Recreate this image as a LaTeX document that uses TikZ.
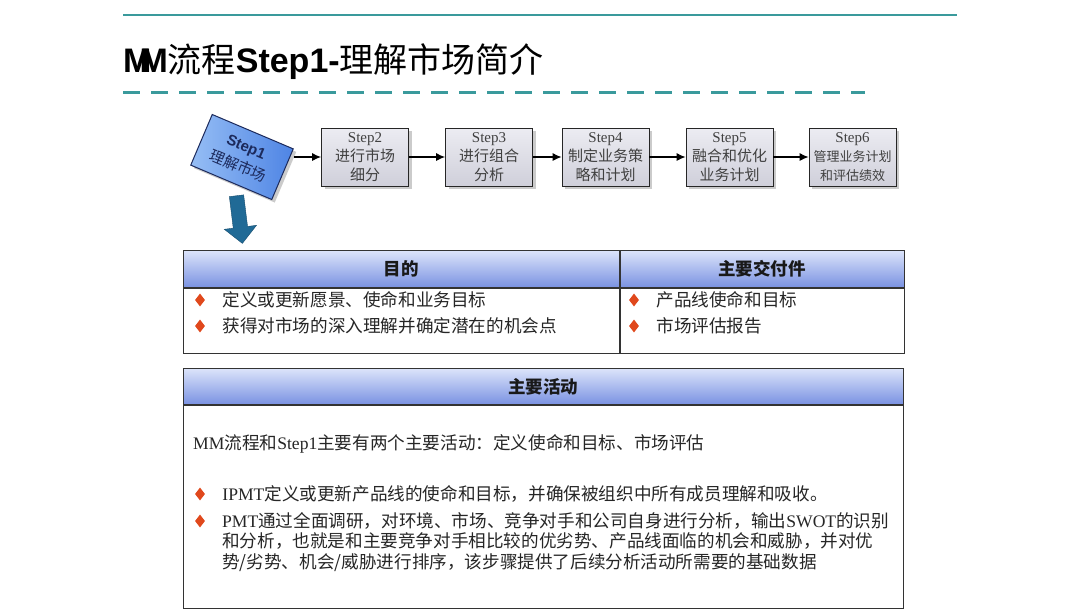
\documentclass[tikz,border=0pt]{standalone}
\usepackage{fontspec}
\setmainfont{Noto Sans CJK SC}
\newfontfamily\serifl{Liberation Serif}
\newfontfamily\sansl{Liberation Sans}
\newcommand{\lat}[1]{{\serifl #1}}
\usepackage{tikz}
\usetikzlibrary{shapes,arrows.meta,positioning,shadows}

\definecolor{tealline}{HTML}{3A9A9C}
\definecolor{headtop}{HTML}{DCE4FA}
\definecolor{headbot}{HTML}{7A92E2}
\definecolor{steptop}{HTML}{ECECF2}
\definecolor{stepbot}{HTML}{CFCFDA}
\definecolor{ticked}{HTML}{E0481C}
\definecolor{navy}{HTML}{1C2A5C}

\begin{document}
\begin{tikzpicture}[x=1pt, y=-1pt,
        stepbox/.style={rectangle, draw=black!85, line width=0.8pt, top color=steptop, bottom color=stepbot, minimum width=87pt, minimum height=58pt, inner sep=2pt, align=center, text=black!75, font=\fontsize{15}{19}\selectfont, drop shadow={shadow xshift=3pt, shadow yshift=-3pt, fill=black!40}},
        firststep/.style={rectangle, draw=navy, line width=1pt, left color={rgb,255:red,150;green,190;blue,245}, right color={rgb,255:red,78;green,132;blue,228}, minimum width=88pt, minimum height=55pt, rotate=-23, align=center, text=navy, font=\fontsize{15}{21}\selectfont, drop shadow={shadow xshift=3pt, shadow yshift=-3pt, fill=black!40}},
        flow/.style={-{Latex[length=9pt, width=8pt]}, line width=1.1pt},
        downarrow/.style={single arrow, draw={rgb,255:red,22;green,76;blue,110}, fill={rgb,255:red,32;green,106;blue,150}, minimum height=48pt, inner sep=7pt, single arrow head extend=9pt, rotate=-83},
        headcell/.style={rectangle, draw=black!80, line width=0.8pt, top color=headtop, bottom color=headbot, anchor=north west, inner sep=0pt, minimum height=37pt, text=black!90, font=\fontsize{17.5}{20}\selectfont\bfseries},
        bodycell/.style={rectangle, draw=black!80, line width=0.8pt, fill=white, anchor=north west, inner sep=0pt},
        tick/.style={diamond, fill=ticked, minimum width=10pt, minimum height=13pt, inner sep=0pt},
        item/.style={inner sep=0pt, text=black!85, font=\fontsize{17.6}{20.5}\selectfont}
    ]

    \fill[white] (0,0) rectangle (1080,614);
    \useasboundingbox (0,0) rectangle (1080,614);

    % title
    \draw[tealline, line width=1.5pt] (123,15) -- (957,15);
    \node[anchor=west, inner sep=0pt, font=\fontsize{34}{40}\selectfont] (title) at (123,62) {{\sansl\bfseries M\kern-12pt M}流程{\sansl\bfseries Step1-}理解市场简介};
    \draw[tealline, line width=3pt, dash pattern=on 17pt off 11pt] (123,92) -- (865,92);

    % steps
    \node[firststep] (step1) at (242,157) {{\sansl\bfseries Step1}\\理解市场};
    \node[stepbox] (step2) at (365,157) {\lat{Step2}\\进行市场\\细分};
    \node[stepbox] (step3) at (489,157) {\lat{Step3}\\进行组合\\分析};
    \node[stepbox] (step4) at (605.5,157) {\lat{Step4}\\制定业务策\\略和计划};
    \node[stepbox] (step5) at (729.5,157) {\lat{Step5}\\融合和优化\\业务计划};
    \node[stepbox] (step6) at (852.5,157) {\lat{Step6}\\{\fontsize{13}{19}\selectfont 管理业务计划}\\{\fontsize{13}{19}\selectfont 和评估绩效}};

    \draw[flow] (step1.north east |- step2.west) -- (step2.west);
    \draw[flow] (step2) -- (step3);
    \draw[flow] (step3) -- (step4);
    \draw[flow] (step4) -- (step5);
    \draw[flow] (step5) -- (step6);

    \node[downarrow] (down) at (239,216) {};

    % goals and deliverables
    \node[headcell, minimum width=436pt] (goalhead) at (183,250) {目的};
    \node[headcell, minimum width=284pt] (delivhead) at (goalhead.north east) {主要交付件};
    \node[bodycell, minimum width=436pt, minimum height=65pt] (goalbody) at (goalhead.south west) {};
    \node[bodycell, minimum width=284pt, minimum height=65pt] (delivbody) at (delivhead.south west) {};

    \node[tick] (bg1) at (200,300) {};
    \node[item, right=17pt of bg1] (g1) {定义或更新愿景、使命和业务目标};
    \node[tick] (bg2) at (200,326) {};
    \node[item, right=17pt of bg2] (g2) {获得对市场的深入理解并确定潜在的机会点};
    \node[tick] (bd1) at (634,300) {};
    \node[item, right=17pt of bd1] (d1) {产品线使命和目标};
    \node[tick] (bd2) at (634,326) {};
    \node[item, right=17pt of bd2] (d2) {市场评估报告};

    % activities
    \node[headcell, minimum width=720pt, minimum height=36pt] (acthead) at (183,368) {主要活动};
    \node[bodycell, minimum width=720pt, minimum height=203pt] (actbody) at (acthead.south west) {};

    \node[item, anchor=west] (a0) at (193,444) {\lat{MM}流程和\lat{Step1}主要有两个主要活动：定义使命和目标、市场评估};
    \node[tick] (ba1) at (200,494) {};
    \node[item, right=17pt of ba1] (a1) {\lat{IPMT}定义或更新产品线的使命和目标，并确保被组织中所有成员理解和吸收。};
    \node[tick] (ba2) at (200,521) {};
    \node[item, anchor=north west, align=left] (a2) at (222,512) {\lat{PMT}通过全面调研，对环境、市场、竞争对手和公司自身进行分析，输出\lat{SWOT}的识别\\和分析，也就是和主要竞争对手相比较的优劣势、产品线面临的机会和威胁，并对优\\势/劣势、机会/威胁进行排序，该步骤提供了后续分析活动所需要的基础数据};

\end{tikzpicture}
\end{document}
